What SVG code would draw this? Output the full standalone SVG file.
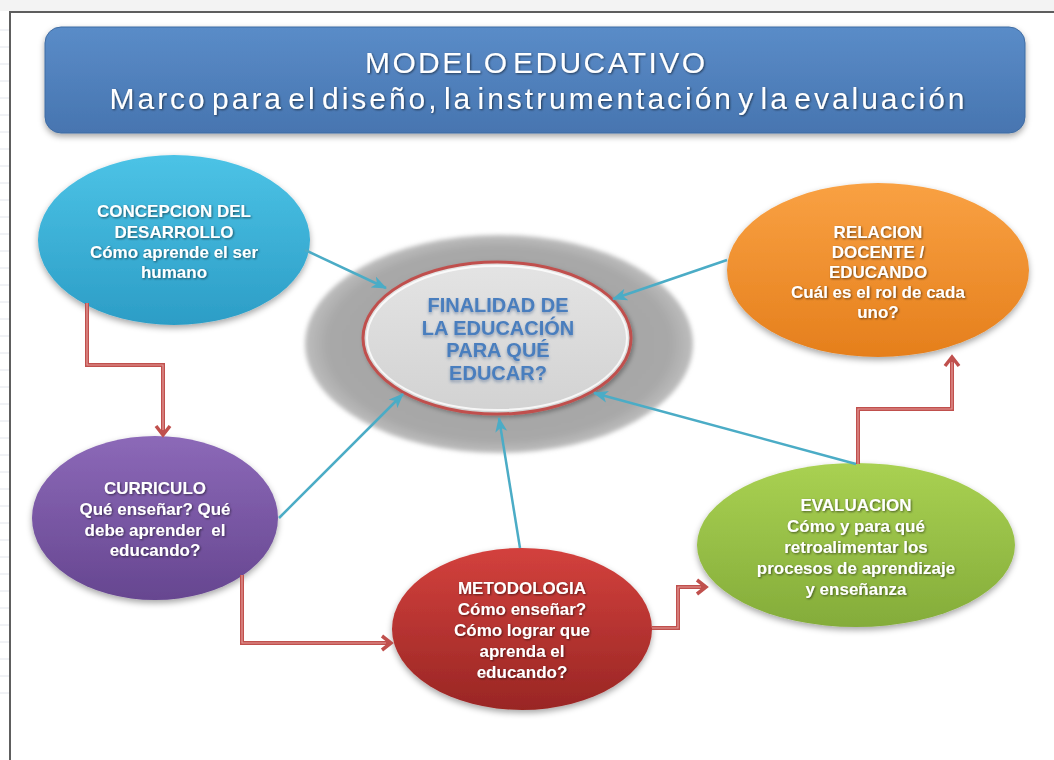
<svg xmlns="http://www.w3.org/2000/svg" width="1054" height="760" viewBox="0 0 1054 760">
<defs>
<style>
.t{font-family:"Liberation Sans",Arial,sans-serif;font-weight:bold;font-size:17px;fill:#ffffff;text-anchor:middle;filter:url(#tsh)}
.title{font-family:"Liberation Sans",Arial,sans-serif;font-size:30px;fill:#ffffff;text-anchor:middle;word-spacing:-7px;filter:url(#tsh)}
.ct{font-family:"Liberation Sans",Arial,sans-serif;font-weight:bold;font-size:20px;fill:#4A7EBE;text-anchor:middle;filter:url(#csh)}
.blue{fill:none;stroke:#4BACC6;stroke-width:2.5;marker-end:url(#ab)}
.redo{fill:none;stroke:#C0504D;stroke-width:4;marker-end:url(#ar)}
.redi{fill:none;stroke:#E39A98;stroke-width:1.2}
.node{filter:url(#sh)}
</style>
<filter id="sh" x="-20%" y="-20%" width="140%" height="150%">
<feDropShadow dx="0" dy="3" stdDeviation="3" flood-color="#000" flood-opacity="0.35"/>
</filter>
<filter id="sh2" x="-20%" y="-20%" width="140%" height="150%">
<feDropShadow dx="2" dy="2" stdDeviation="2" flood-color="#000" flood-opacity="0.3"/>
</filter>
<filter id="tsh" x="-10%" y="-30%" width="120%" height="160%">
<feDropShadow dx="1" dy="1" stdDeviation="0.8" flood-color="#000" flood-opacity="0.55"/>
</filter>
<filter id="csh" x="-10%" y="-30%" width="120%" height="180%">
<feDropShadow dx="0" dy="2" stdDeviation="1.5" flood-color="#2B4F80" flood-opacity="0.45"/>
</filter>
<filter id="blur" x="-10%" y="-10%" width="120%" height="120%">
<feGaussianBlur stdDeviation="2"/>
</filter>
<linearGradient id="gT" x1="0" y1="0" x2="0" y2="1"><stop offset="0" stop-color="#5A8CC8"/><stop offset="1" stop-color="#4775B0"/></linearGradient>
<linearGradient id="gC" x1="0" y1="0" x2="0" y2="1"><stop offset="0" stop-color="#4CC3E6"/><stop offset="1" stop-color="#2C9DC6"/></linearGradient>
<linearGradient id="gP" x1="0" y1="0" x2="0" y2="1"><stop offset="0" stop-color="#8C69B8"/><stop offset="1" stop-color="#664690"/></linearGradient>
<linearGradient id="gR" x1="0" y1="0" x2="0" y2="1"><stop offset="0" stop-color="#D3413D"/><stop offset="1" stop-color="#992624"/></linearGradient>
<linearGradient id="gG" x1="0" y1="0" x2="0" y2="1"><stop offset="0" stop-color="#A9D152"/><stop offset="1" stop-color="#84AC3A"/></linearGradient>
<linearGradient id="gO" x1="0" y1="0" x2="0" y2="1"><stop offset="0" stop-color="#F9A143"/><stop offset="1" stop-color="#E57F1C"/></linearGradient>
<radialGradient id="gGray" cx="0.5" cy="0.5" r="0.5"><stop offset="0" stop-color="#A4A4A4"/><stop offset="0.88" stop-color="#A8A8A8"/><stop offset="1" stop-color="#BEBEBE"/></radialGradient>
<linearGradient id="gIn" x1="0" y1="0" x2="0" y2="1"><stop offset="0" stop-color="#E4E4E4"/><stop offset="1" stop-color="#D2D2D2"/></linearGradient>
<marker id="ab" markerUnits="userSpaceOnUse" markerWidth="16" markerHeight="14" refX="14" refY="7" orient="auto">
<path d="M0,1 L15,7 L0,13 L4,7 z" fill="#4BACC6"/>
</marker>
<marker id="ar" markerUnits="userSpaceOnUse" markerWidth="16" markerHeight="18" refX="12" refY="9" orient="auto">
<path d="M3,2 L12,9 L3,16" fill="none" stroke="#C0504D" stroke-width="3.5"/>
</marker>
</defs>
<rect x="0" y="0" width="1054" height="760" fill="#ffffff"/>
<rect x="0" y="0" width="1054" height="11" fill="#f3f3f3"/>
<g id="frame" stroke="#E2E5EC" stroke-width="1">
<path d="M0,30H9 M0,47H9 M0,64H9 M0,81H9 M0,98H9 M0,115H9 M0,132H9 M0,149H9 M0,166H9 M0,183H9 M0,200H9 M0,217H9 M0,234H9 M0,251H9 M0,268H9 M0,285H9 M0,302H9 M0,319H9 M0,336H9 M0,353H9 M0,370H9 M0,387H9 M0,404H9 M0,421H9 M0,438H9 M0,455H9 M0,472H9 M0,489H9 M0,506H9 M0,523H9 M0,540H9 M0,557H9 M0,574H9 M0,591H9 M0,608H9 M0,625H9 M0,642H9 M0,659H9 M0,676H9 M0,693H9"/>
<path d="M10,760 V12 H1054" fill="none" stroke="#5E5E5E" stroke-width="2"/>
</g>
<g id="title">
<rect x="45" y="27" width="980" height="106" rx="16" fill="url(#gT)" stroke="#3F6CA3" stroke-width="1" filter="url(#sh)"/>
<text class="title" x="535" y="73" textLength="340" lengthAdjust="spacing">MODELO EDUCATIVO</text>
<text class="title" x="537" y="109" textLength="855" lengthAdjust="spacing">Marco para el diseño, la instrumentación y la evaluación</text>
</g>
<g id="finalidad">
<ellipse cx="499" cy="344" rx="194" ry="109" fill="url(#gGray)" filter="url(#blur)"/>
<ellipse cx="497" cy="338" rx="134" ry="76" fill="url(#gIn)" stroke="#C0504D" stroke-width="3" filter="url(#sh2)"/>
<ellipse cx="497" cy="338" rx="130" ry="72" fill="none" stroke="#ffffff" stroke-width="2" opacity="0.8"/>
<text class="ct" x="498" y="312">FINALIDAD DE</text>
<text class="ct" x="498" y="335">LA EDUCACIÓN</text>
<text class="ct" x="498" y="357">PARA QUÉ</text>
<text class="ct" x="498" y="380">EDUCAR?</text>
</g>
<g id="concepcion" class="node">
<ellipse cx="174" cy="240" rx="136" ry="85" fill="url(#gC)"/>
<text class="t" x="174" y="217">CONCEPCION DEL</text>
<text class="t" x="174" y="237.5">DESARROLLO</text>
<text class="t" x="174" y="258">Cómo aprende el ser</text>
<text class="t" x="174" y="278">humano</text>
</g>
<g id="relacion" class="node">
<ellipse cx="878" cy="270" rx="151" ry="87" fill="url(#gO)"/>
<text class="t" x="878" y="238">RELACION</text>
<text class="t" x="878" y="258">DOCENTE /</text>
<text class="t" x="878" y="278">EDUCANDO</text>
<text class="t" x="878" y="298">Cuál es el rol de cada</text>
<text class="t" x="878" y="318">uno?</text>
</g>
<g id="curriculo" class="node">
<ellipse cx="155" cy="518" rx="123" ry="82" fill="url(#gP)"/>
<text class="t" x="155" y="494">CURRICULO</text>
<text class="t" x="155" y="515">Qué enseñar? Qué</text>
<text class="t" x="155" y="536" xml:space="preserve">debe aprender  el</text>
<text class="t" x="155" y="556">educando?</text>
</g>
<g id="metodologia" class="node">
<ellipse cx="522" cy="629" rx="130" ry="81" fill="url(#gR)"/>
<text class="t" x="522" y="594">METODOLOGIA</text>
<text class="t" x="522" y="615">Cómo enseñar?</text>
<text class="t" x="522" y="636">Cómo lograr que</text>
<text class="t" x="522" y="657">aprenda el</text>
<text class="t" x="522" y="678">educando?</text>
</g>
<g id="evaluacion" class="node">
<ellipse cx="856" cy="545" rx="159" ry="82" fill="url(#gG)"/>
<text class="t" x="856" y="511">EVALUACION</text>
<text class="t" x="856" y="532">Cómo y para qué</text>
<text class="t" x="856" y="553">retroalimentar los</text>
<text class="t" x="856" y="574">procesos de aprendizaje</text>
<text class="t" x="856" y="595">y enseñanza</text>
</g>
<g id="connectors">
<path class="blue" d="M305,250 L386,288"/>
<path class="blue" d="M727,260 L613,299"/>
<path class="blue" d="M279,518 L403,394"/>
<path class="blue" d="M520,548 L499,418"/>
<path class="blue" d="M856,464 L594,393"/>
<path class="redo" d="M87,303 V365 H163 V435"/>
<path class="redi" d="M87,303 V365 H163 V430"/>
<path class="redo" d="M242,575 V643 H391"/>
<path class="redi" d="M242,575 V643 H386"/>
<path class="redo" d="M652,628 H678 V587 H706"/>
<path class="redi" d="M652,628 H678 V587 H701"/>
<path class="redo" d="M858,464 V409 H952 V357"/>
<path class="redi" d="M858,464 V409 H952 V362"/>
</g>
</svg>
